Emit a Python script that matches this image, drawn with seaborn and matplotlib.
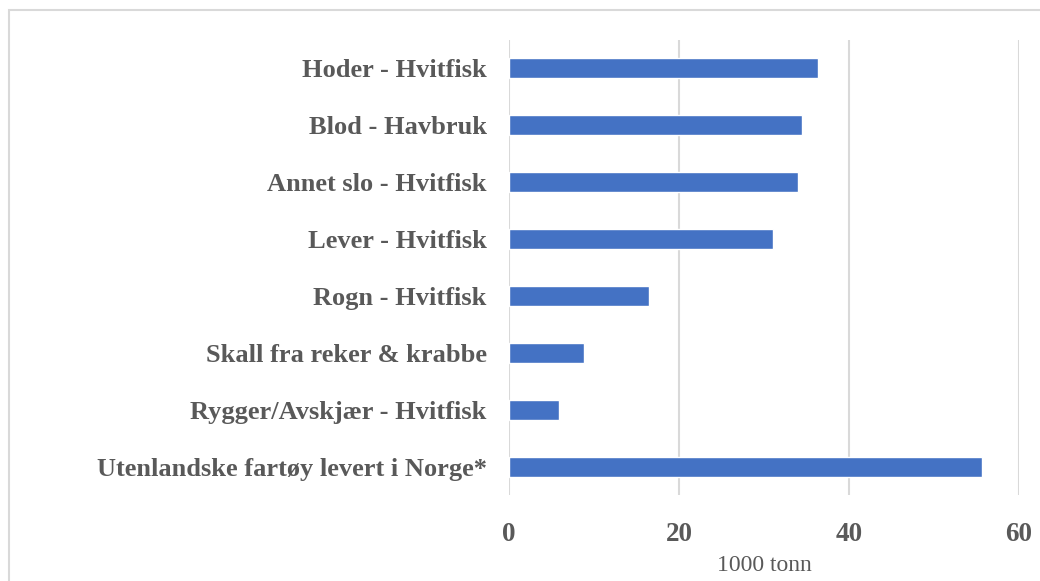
import matplotlib
matplotlib.use("Agg")
import matplotlib.pyplot as plt
import seaborn as sns
import pandas as pd
from matplotlib.patches import Rectangle

# data (1000 tonn)
kategorier = ["Hoder - Hvitfisk", "Blod - Havbruk", "Annet slo - Hvitfisk",
              "Lever - Hvitfisk", "Rogn - Hvitfisk", "Skall fra reker & krabbe",
              "Rygger/Avskjær - Hvitfisk", "Utenlandske fartøy levert i Norge*"]
verdier = [36.3, 34.5, 34.0, 31.1, 16.5, 8.8, 5.85, 55.6]
xticks = [0, 20, 40, 60]

df = pd.DataFrame({"kategori": kategorier, "tonn": verdier})

sns.set_style("white")
plt.rcParams["font.family"] = ["Liberation Serif", "DejaVu Serif"]

fig = plt.figure(figsize=(10.4, 5.81), dpi=100)
ax = fig.add_axes([0.4894, 0.1472, 0.4904, 0.7848])

sns.barplot(data=df, x="tonn", y="kategori", orient="h", color="#4472C4",
            saturation=1, width=0.36, ax=ax)

ax.set_xlim(0, 60)
ax.set_xticks(xticks)
ax.set_xticklabels([str(t) for t in xticks], fontsize=19.5, fontweight="bold", color="#595959")
ax.tick_params(axis="x", length=0, pad=19)
ax.tick_params(axis="y", length=0, pad=16)
for lbl in ax.get_yticklabels():
    lbl.set_fontsize(19)
    lbl.set_fontweight("bold")
    lbl.set_color("#595959")

ax.set_ylabel("")
ax.set_xlabel("1000 tonn", fontsize=17, color="#595959", labelpad=6)

ax.xaxis.grid(True, color="#d9d9d9", linewidth=1.5)
ax.set_axisbelow(True)
for s in ax.spines.values():
    s.set_visible(False)

# outer chart frame (cut off on the right and bottom)
fig.patches.append(Rectangle((9 / 1040, -0.1), 1.2, 1 - 10 / 581 + 0.1,
                             transform=fig.transFigure, fill=False,
                             edgecolor="#d9d9d9", linewidth=1.5, clip_on=False))

fig.savefig("out.png", dpi=100, facecolor="white")
